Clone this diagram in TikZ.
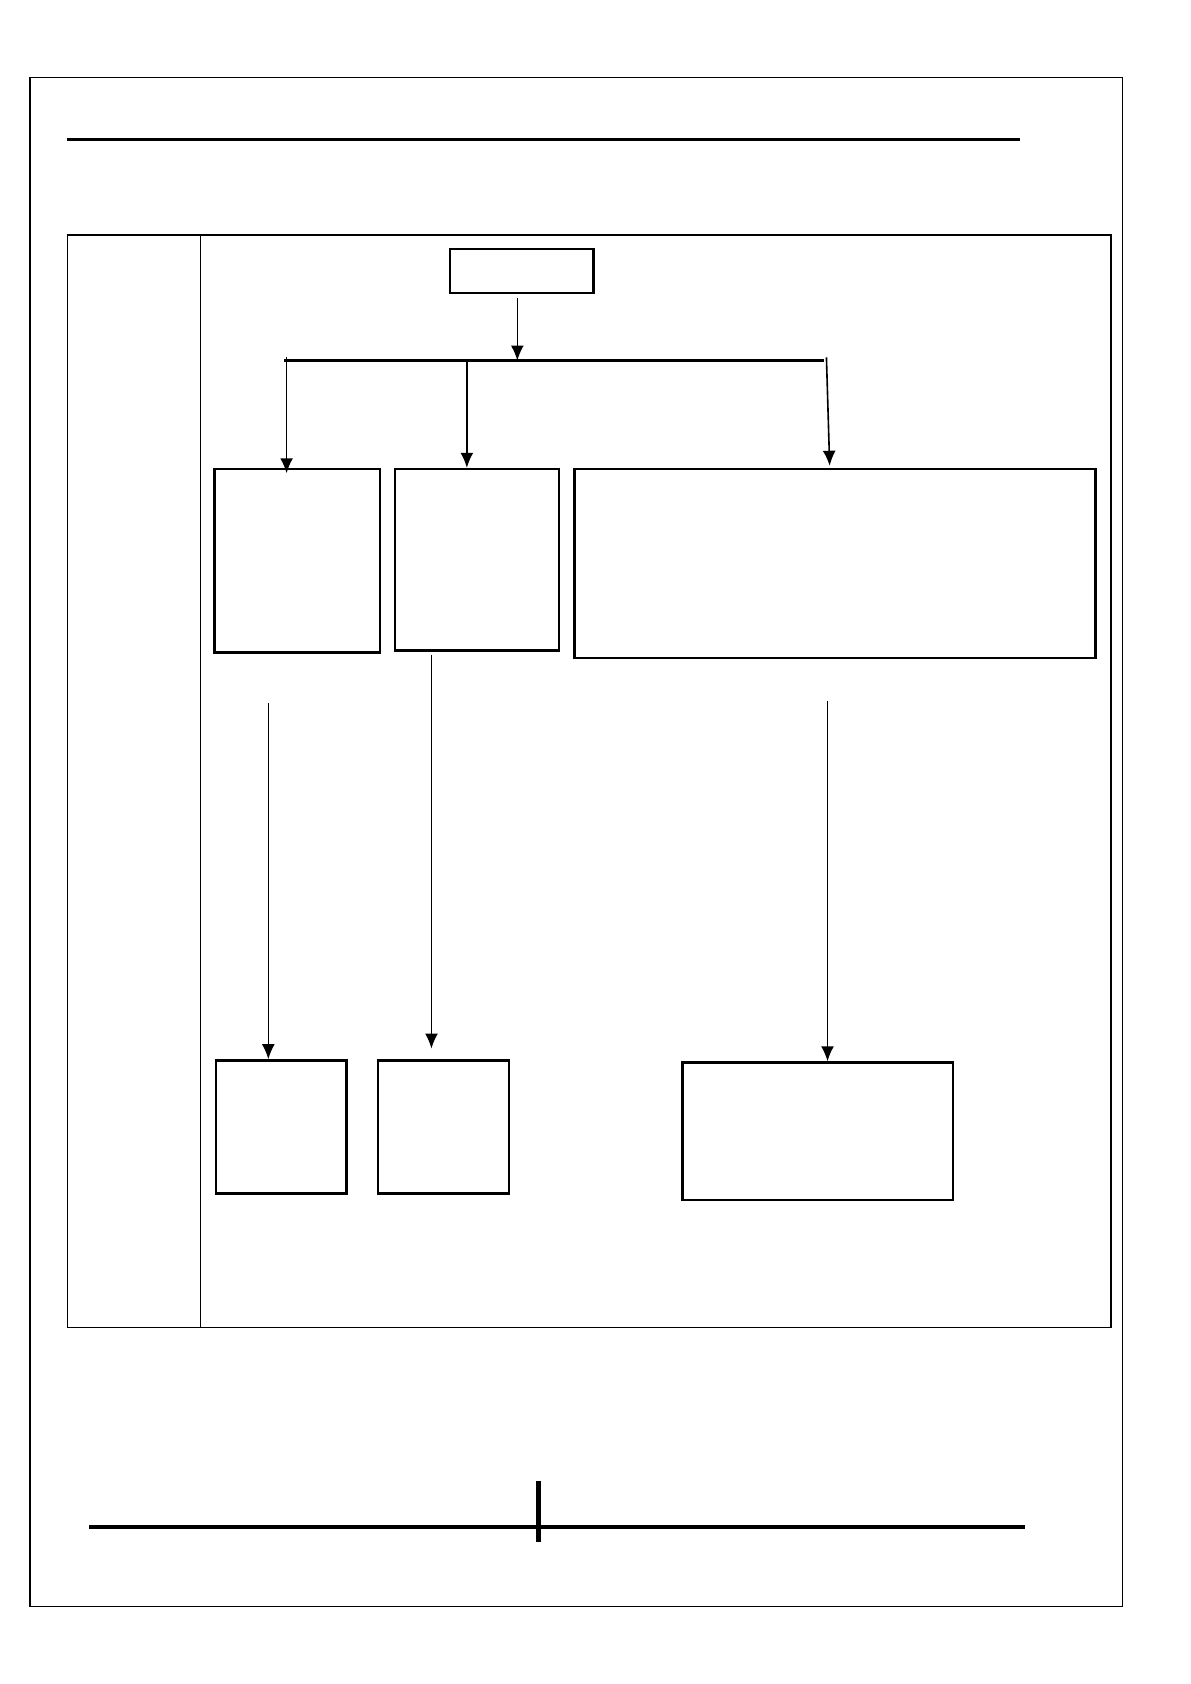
\documentclass[tikz,border=0pt]{standalone}
\usetikzlibrary{arrows.meta,fit}
\begin{document}
\begin{tikzpicture}[x=0.5pt,y=-0.5pt,
  thinline/.style={line width=0.6pt},
  boxshape/.style={draw,line width=1.1pt,inner sep=0pt,rectangle},
  bigbox/.style={draw,line width=1.3pt,inner sep=0pt,rectangle},
  arr/.style={line width=0.75pt,-{Latex[length=7pt,width=6pt]}},
  heavy/.style={line width=1.8pt},
  bus/.style={line width=1.1pt}]
\useasboundingbox (0,0) rectangle (1109,1569);
% page frame
\draw[thinline] (28,72) rectangle (1046,1497);
\draw[heavy] (62,130) -- (950,130);
% table
\draw[thinline] (63,219) rectangle (1035,1237);
\draw[thinline] (187,219) -- (187,1237);
% boxes
\coordinate (t1) at (419,232); \coordinate (t2) at (553,273);
\node[boxshape,fit=(t1)(t2)] (top) {};
\coordinate (a1) at (200,437); \coordinate (a2) at (354,608);
\node[boxshape,fit=(a1)(a2)] (A) {};
\coordinate (b1) at (368,437); \coordinate (b2) at (521,606);
\node[boxshape,fit=(b1)(b2)] (B) {};
\coordinate (c1) at (535,437); \coordinate (c2) at (1021,613);
\node[bigbox,fit=(c1)(c2)] (C) {};
\coordinate (d1) at (201,988); \coordinate (d2) at (323,1112);
\node[boxshape,fit=(d1)(d2)] (D) {};
\coordinate (e1) at (352,988); \coordinate (e2) at (474,1112);
\node[boxshape,fit=(e1)(e2)] (E) {};
\coordinate (f1) at (636,990); \coordinate (f2) at (888,1118);
\node[boxshape,fit=(f1)(f2)] (F) {};
% bus
\coordinate (busL) at (265,336);
\coordinate (busR) at (768,336);
\coordinate (busM) at (482,336);
\draw[bus] (busL) -- (busR);
\coordinate (topOut) at (482,278);
\draw[arr] (topOut) -- (busM);
% drops to first row
\coordinate (dropA) at (267,333);
\coordinate (tipA) at (267,441);
\draw[arr] (dropA) -- (tipA);
\coordinate (dropB) at (435,336);
\draw[arr] (dropB) -- (dropB |- B.north);
\coordinate (dropC) at (770,333);
\coordinate (tipC) at (773,434);
\draw[arr] (dropC) -- (tipC);
% second row arrows
\coordinate (srcA) at (250,655);
\draw[arr] (srcA) -- (srcA |- D.north);
\coordinate (srcB) at (402,610);
\coordinate (tipB) at (402,977);
\draw[arr] (srcB) -- (tipB);
\coordinate (srcC) at (771,653);
\draw[arr] (srcC) -- (srcC |- F.north);
% footer
\draw[heavy] (83,1423) -- (955,1423);
\draw[line width=2.2pt] (502,1380) -- (502,1437);
\end{tikzpicture}
\end{document}
